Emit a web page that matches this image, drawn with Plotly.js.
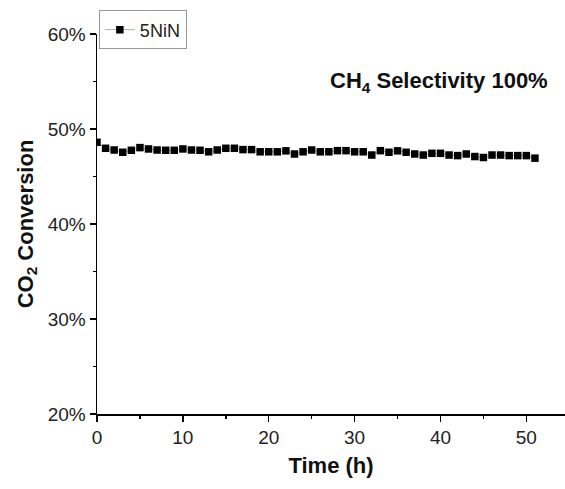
<!DOCTYPE html>
<html>
<head>
<meta charset="utf-8">
<script src="https://cdn.plot.ly/plotly-3.0.1.min.js"></script>
<style>html,body{margin:0;padding:0;background:#fff;}#chart{width:565px;height:489px;}</style>
</head>
<body>
<div id="chart"></div>
<script>
// Time on stream (h)
var timeH = [0,1,2,3,4,5,6,7,8,9,10,11,12,13,14,15,16,17,18,19,20,21,22,23,24,25,26,27,28,29,30,31,32,33,34,35,36,37,38,39,40,41,42,43,44,45,46,47,48,49,50,51];
// CO2 conversion (%) for 5NiN
var conv5NiN = [48.6,47.97,47.79,47.55,47.76,48.04,47.9,47.79,47.76,47.76,
                47.9,47.79,47.76,47.6,47.79,47.97,47.97,47.83,47.83,47.6,
                47.6,47.6,47.7,47.37,47.6,47.79,47.6,47.6,47.72,47.72,
                47.6,47.6,47.26,47.72,47.55,47.7,47.55,47.37,47.26,47.44,
                47.44,47.26,47.2,47.37,47.1,47.0,47.26,47.26,47.2,47.2,
                47.2,46.93];
var seriesName = '5NiN';
var yTicks = [20,30,40,50,60];
var yTickLabels = ['20%','30%','40%','50%','60%'];
var xTicks = [0,10,20,30,40,50];

var trace = {
  x: timeH, y: conv5NiN, name: seriesName,
  type: 'scatter', mode: 'lines+markers',
  line: {color: 'rgba(0,0,0,0.4)', width: 0.8},
  marker: {symbol: 'square', size: 7.5, color: '#000'}
};

var layout = {
  width: 565, height: 489,
  margin: {l: 97, r: 0, t: 34, b: 75},
  paper_bgcolor: '#fff', plot_bgcolor: '#fff',
  font: {family: 'Liberation Sans, Arial, sans-serif', color: '#222'},
  showlegend: true,
  legend: {x: 0.004, y: 1.062, xanchor: 'left', yanchor: 'top',
           bordercolor: '#999', borderwidth: 1, bgcolor: '#fff',
           font: {size: 18, color: '#222'}},
  xaxis: {
    range: [0, 54.5], tickmode: 'array', tickvals: xTicks, ticks: 'outside', ticklen: 6, tickwidth: 1.5,
    tickcolor: '#000', showline: true, linecolor: '#000', linewidth: 1.5,
    showgrid: false, zeroline: false, tickfont: {size: 19, color: '#222'},
    minor: {dtick: 5, tick0: 0, ticks: 'outside', ticklen: 3, tickwidth: 1.5, tickcolor: '#000', showgrid: false},
    title: {text: '<b>Time (h)</b>', font: {size: 22, color: '#111'}, standoff: 10}
  },
  yaxis: {
    range: [20, 60], tickmode: 'array', tickvals: yTicks, ticktext: yTickLabels, ticks: 'outside', ticklen: 6, tickwidth: 1.5,
    tickcolor: '#000', showline: true, linecolor: '#000', linewidth: 1.5,
    showgrid: false, zeroline: false, tickfont: {size: 19, color: '#222'},
    minor: {dtick: 5, tick0: 0, ticks: 'outside', ticklen: 3, tickwidth: 1.5, tickcolor: '#000', showgrid: false},
    title: {text: '<b>CO<sub>2</sub> Conversion</b>', font: {size: 22, color: '#111'}, standoff: 8}
  },
  annotations: [{
    xref: 'paper', yref: 'paper', x: 0.967, y: 0.875, xanchor: 'right', yanchor: 'middle',
    text: '<b>CH<sub>4</sub> Selectivity 100%</b>', showarrow: false,
    font: {size: 22, color: '#111'}
  }]
};

Plotly.newPlot('chart', [trace], layout, {staticPlot: true, displayModeBar: false});
</script>
</body>
</html>
